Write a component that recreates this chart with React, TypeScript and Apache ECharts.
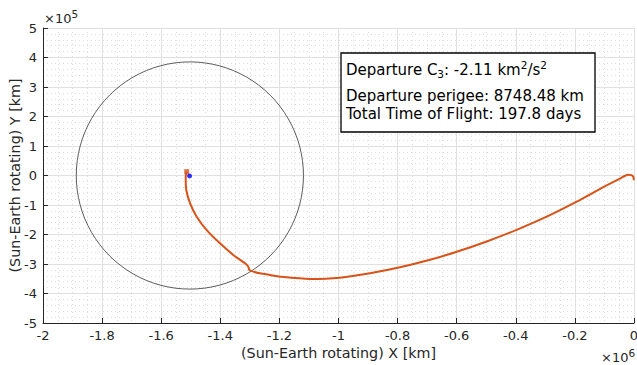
import React, { useEffect, useRef } from 'react';
import * as echarts from 'echarts';

const xTickLabels = ['-2', '-1.8', '-1.6', '-1.4', '-1.2', '-1', '-0.8', '-0.6', '-0.4', '-0.2', '0'];
const yTickLabels = ['-5', '-4', '-3', '-2', '-1', '0', '1', '2', '3', '4', '5'];

// trajectory in Sun-Earth rotating frame [km]
const trajX = [
  -1.5137e6, -1.5165e6, -1.5171e6, -1.5151e6, -1.5025e6, -1.4799e6, -1.446e6, -1.401e6,
  -1.356e6, -1.3164e6, -1.3052e6, -1.3019e6, -1.2883e6, -1.2657e6, -1.2318e6, -1.198e6,
  -1.0964e6, -0.995e6, -0.8934e6, -0.792e6, -0.6904e6, -0.6e6, -0.4985e6, -0.397e6,
  -0.2954e6, -0.194e6, -0.104e6, -0.0474e6, -0.0203e6, -0.0095e6, -0.0024e6, -0.0005e6,
];
const trajY = [
  13000, 0, -9500, -49000, -94000, -140000, -185000, -230000,
  -269500, -297600, -309200, -320000, -326000, -331500, -337300, -343000,
  -350800, -346500, -331500, -311200, -285800, -258700, -223700, -184100,
  -139700, -88800, -39500, -10500, 2400, 1200, -4000, -16000,
];

const earthPos = [-1.504e6, -1500];
const moonOrbitCenter = [-1.503e6, 0];
const moonOrbitRadius = 384400;

const boxLines = [
  'Departure C{sub|3}: -2.11 km{sup|2}/s{sup|2}',
  'Departure perigee: 8748.48 km',
  'Total Time of Flight: 197.8 days',
];

const FONT = 'DejaVu Sans';
const AX = '#262626';
const ORANGE = '#D95319';

export default function App() {
  const ref = useRef<HTMLDivElement>(null);
  useEffect(() => {
    if (!ref.current) return;
    const chart = echarts.init(ref.current, undefined, { renderer: 'svg' });
    const traj = trajX.map((x, i) => [x, trajY[i]]);
    chart.setOption({
      animation: false,
      backgroundColor: '#fff',
      grid: { left: 43, right: 3, top: 28, bottom: 42, containLabel: false, outerBoundsMode: 'none' },
      xAxis: {
        type: 'value',
        min: -2e6,
        max: 0,
        interval: 2e5,
        name: '(Sun-Earth rotating) X [km]',
        nameLocation: 'middle',
        nameGap: 23,
        nameMoveOverlap: false,
        nameTextStyle: { fontFamily: FONT, fontSize: 14.3, color: AX },
        axisLine: { onZero: false, lineStyle: { color: AX, width: 1 } },
        axisTick: { inside: true, length: 5, lineStyle: { color: AX } },
        axisLabel: {
          margin: 6,
          fontFamily: FONT,
          fontSize: 13,
          color: AX,
          hideOverlap: false,
          formatter: (_v: number, i: number) => xTickLabels[i],
        },
        splitLine: { show: true, lineStyle: { color: '#e0e0e0', width: 1 } },
        minorTick: { show: false, splitNumber: 4 },
        minorSplitLine: { show: true, lineStyle: { color: '#dedede', width: 1, type: [1, 3] } },
      },
      yAxis: {
        type: 'value',
        min: -5e5,
        max: 5e5,
        interval: 1e5,
        name: '(Sun-Earth rotating) Y [km]',
        nameLocation: 'middle',
        nameGap: 21,
        nameMoveOverlap: false,
        nameTextStyle: { fontFamily: FONT, fontSize: 14.3, color: AX },
        axisLine: { onZero: false, lineStyle: { color: AX, width: 1 } },
        axisTick: { inside: true, length: 5, lineStyle: { color: AX } },
        axisLabel: {
          margin: 6,
          fontFamily: FONT,
          fontSize: 13,
          color: AX,
          formatter: (_v: number, i: number) => yTickLabels[i],
        },
        splitLine: { show: true, lineStyle: { color: '#e0e0e0', width: 1 } },
        minorTick: { show: false, splitNumber: 5 },
        minorSplitLine: { show: true, lineStyle: { color: '#dedede', width: 1, type: [1, 3] } },
      },
      series: [
        {
          type: 'custom',
          silent: true,
          data: [[moonOrbitCenter[0], moonOrbitCenter[1], moonOrbitRadius]],
          encode: { x: 0, y: 1 },
          renderItem: (_p: any, api: any) => {
            const c = api.coord([api.value(0), api.value(1)]);
            const r = api.size([api.value(2), 0])[0];
            return {
              type: 'circle',
              shape: { cx: c[0], cy: c[1], r },
              style: { fill: 'none', stroke: '#333', lineWidth: 0.8 },
            };
          },
          z: 1,
        },
        {
          type: 'line',
          data: traj,
          showSymbol: false,
          symbol: 'none',
          smooth: 0.25,
          lineStyle: { color: ORANGE, width: 2 },
          z: 2,
        },
        {
          type: 'scatter',
          data: [traj[0]],
          symbol: 'rect',
          symbolSize: 5,
          itemStyle: { color: ORANGE },
          z: 3,
        },
        {
          type: 'scatter',
          data: [earthPos],
          symbol: 'circle',
          symbolSize: 5,
          itemStyle: { color: '#0000ff' },
          z: 4,
        },
      ],
      graphic: [
        {
          type: 'text',
          x: 44,
          y: 8.7,
          style: {
            text: '×10{sup|5}',
            fontFamily: FONT,
            fontSize: 13,
            lineHeight: 20,
            fill: AX,
            verticalAlign: 'top',
            rich: { sup: { fontFamily: FONT, fontSize: 10.5, lineHeight: 10, verticalAlign: 'top', color: AX } },
          },
        },
        {
          type: 'text',
          x: 601,
          y: 347,
          style: {
            text: '×10{sup|6}',
            fontFamily: FONT,
            fontSize: 13,
            lineHeight: 20,
            fill: AX,
            verticalAlign: 'top',
            rich: { sup: { fontFamily: FONT, fontSize: 10.5, lineHeight: 10, verticalAlign: 'top', color: AX } },
          },
        },
        {
          type: 'rect',
          shape: { x: 341, y: 53, width: 254, height: 79 },
          style: { fill: '#fff', stroke: '#000', lineWidth: 1.3 },
          z: 10,
        },
        {
          type: 'text',
          x: 346,
          y: 59.7,
          z: 11,
          style: {
            text: boxLines[0],
            fontFamily: FONT,
            fontSize: 15,
            lineHeight: 20,
            fill: '#000',
            verticalAlign: 'top',
            rich: {
              sup: { fontFamily: FONT, fontSize: 10.5, lineHeight: 10, verticalAlign: 'top', color: '#000' },
              sub: { fontFamily: FONT, fontSize: 10.5, lineHeight: 10, verticalAlign: 'bottom', color: '#000' },
            },
          },
        },
        {
          type: 'text',
          x: 346,
          y: 95.5,
          z: 11,
          style: { text: boxLines[1], fontFamily: FONT, fontSize: 15, lineHeight: 15, fill: '#000', verticalAlign: 'middle' },
        },
        {
          type: 'text',
          x: 346,
          y: 113.5,
          z: 11,
          style: { text: boxLines[2], fontFamily: FONT, fontSize: 15, lineHeight: 15, fill: '#000', verticalAlign: 'middle' },
        },
      ],
    });
    return () => chart.dispose();
  }, []);
  return <div ref={ref} style={{ position: 'absolute', left: 0, top: 0, width: 637, height: 365 }} />;
}
